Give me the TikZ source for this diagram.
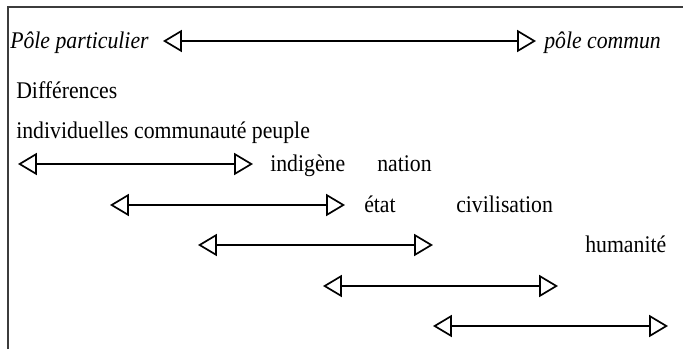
\documentclass[tikz,border=0pt]{standalone}
\usepackage{fontspec}
\setmainfont[FakeStretch=0.91]{Liberation Serif}
\usepackage{xcolor}
\usetikzlibrary{arrows.meta}
\definecolor{frameG}{RGB}{60,60,60}

\begin{document}
\begin{tikzpicture}[x=0.025cm, y=-0.025cm,
    lbl/.style={anchor=base west, inner sep=0pt, font=\fontsize{17}{20}\selectfont},
    ilbl/.style={lbl, font=\fontsize{17}{20}\selectfont\itshape},
    pole/.style={line width=1.2pt,
      {Triangle[open, length=0.47cm, width=0.55cm, line width=1.2pt]}-{Triangle[open, length=0.47cm, width=0.55cm, line width=1.2pt]}}
  ]
  \useasboundingbox (0,0) rectangle (683,349);
  % frame (left and top only)
  \draw[frameG, line width=0.8pt] (8,349) |- (683,7);

  % main axis
  \node[ilbl] (pp) at (10,48) {Pôle particulier};
  \node[ilbl] (pc) at (544,48) {pôle commun};
  \coordinate (ax0) at (163,41);
  \coordinate (ax1) at (536,41);
  \draw[pole] (ax0) -- (ax1);

  \node[lbl] (diff) at (16,98) {Différences};
  \node[lbl] (indiv) at (16,138) {individuelles communauté peuple};

  % staggered ranges
  \foreach \i/\xa/\yy in {1/18/164, 2/110/205, 3/198/245, 4/323/286, 5/433/326} {
    \coordinate (l\i) at (\xa,\yy);
    \coordinate (r\i) at (\xa+235,\yy);
    \draw[pole] (l\i) -- (r\i);
  }

  \node[lbl] (indig) at (270,171) {indigène};
  \node[lbl] (nat) at (377,171) {nation};
  \node[lbl] (etat) at (364,212) {état};
  \node[lbl] (civ) at (456,212) {civilisation};
  \node[lbl] (hum) at (585,252) {humanité};
\end{tikzpicture}
\end{document}
